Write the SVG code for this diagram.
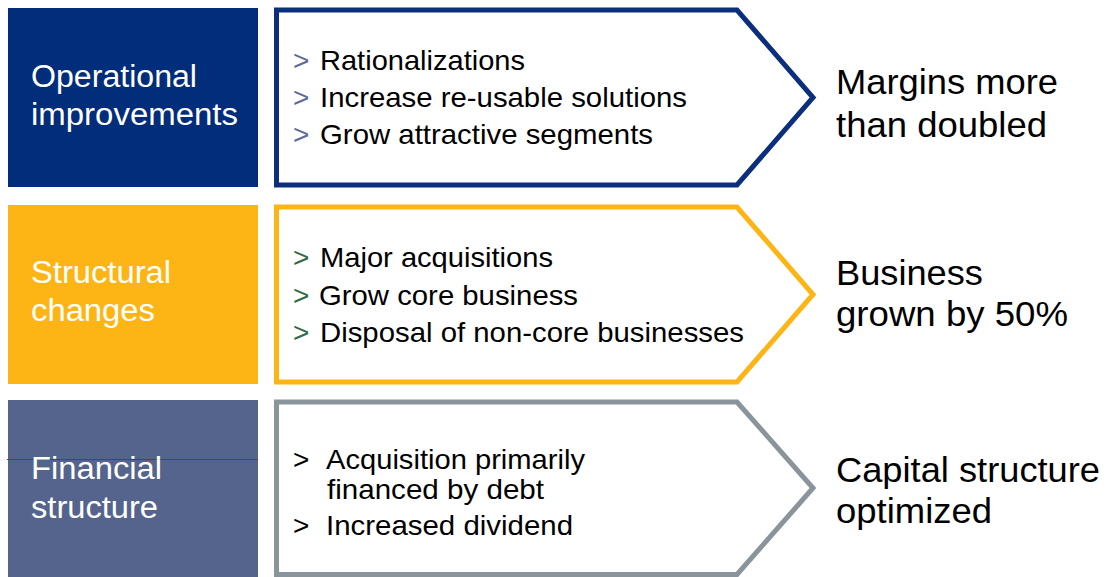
<svg xmlns="http://www.w3.org/2000/svg" width="1107" height="577" viewBox="0 0 1107 577">
<style>
.lbl{font-family:"Liberation Sans",Arial,sans-serif;font-size:31px;fill:#ffffff}
.bt{font-family:"Liberation Sans",Arial,sans-serif;font-size:28px;fill:#000000}
.res{font-family:"Liberation Sans",Arial,sans-serif;font-size:35px;fill:#000000}
.chev{fill:#ffffff;stroke-width:5;stroke-linejoin:miter;stroke-miterlimit:10}
</style>
<rect width="1107" height="577" fill="#ffffff"/>
<g id="row1">
<rect x="8" y="8" width="250" height="179" fill="#022D7A"/>
<text class="lbl" x="31" y="87" textLength="166" lengthAdjust="spacingAndGlyphs">Operational</text>
<text class="lbl" x="31" y="125" textLength="207" lengthAdjust="spacingAndGlyphs">improvements</text>
<polygon class="chev" stroke="#0B2F7C" points="276.5,10 737,10 813,97.5 737,185 276.5,185"/>
<g fill="#5B6A9C" font-family="Liberation Sans, Arial, sans-serif" font-size="28">
<text x="293" y="70">&gt;</text><text x="293" y="107">&gt;</text><text x="293" y="144">&gt;</text>
</g>
<text class="bt" x="320" y="70" textLength="205" lengthAdjust="spacingAndGlyphs">Rationalizations</text>
<text class="bt" x="320" y="107" textLength="367" lengthAdjust="spacingAndGlyphs">Increase re-usable solutions</text>
<text class="bt" x="320" y="144" textLength="333" lengthAdjust="spacingAndGlyphs">Grow attractive segments</text>
<text class="res" x="836" y="94" textLength="222" lengthAdjust="spacingAndGlyphs">Margins more</text>
<text class="res" x="836" y="137" textLength="211" lengthAdjust="spacingAndGlyphs">than doubled</text>
</g>
<g id="row2">
<rect x="8" y="205" width="250" height="179" fill="#FDB515"/>
<text class="lbl" x="31" y="283" textLength="140" lengthAdjust="spacingAndGlyphs">Structural</text>
<text class="lbl" x="31" y="321" textLength="124" lengthAdjust="spacingAndGlyphs">changes</text>
<polygon class="chev" stroke="#FDB515" points="276.5,207 737,207 813,294.5 737,382 276.5,382"/>
<g fill="#2F6B47" font-family="Liberation Sans, Arial, sans-serif" font-size="28">
<text x="293" y="267">&gt;</text><text x="293" y="305">&gt;</text><text x="293" y="342">&gt;</text>
</g>
<text class="bt" x="320" y="267" textLength="233" lengthAdjust="spacingAndGlyphs">Major acquisitions</text>
<text class="bt" x="319" y="305" textLength="259" lengthAdjust="spacingAndGlyphs">Grow core business</text>
<text class="bt" x="320" y="342" textLength="424" lengthAdjust="spacingAndGlyphs">Disposal of non-core businesses</text>
<text class="res" x="836" y="285" textLength="147" lengthAdjust="spacingAndGlyphs">Business</text>
<text class="res" x="836" y="326" textLength="232" lengthAdjust="spacingAndGlyphs">grown by 50%</text>
</g>
<g id="row3">
<rect x="8" y="400" width="250" height="177" fill="#55648D"/>
<line x1="7" y1="459.5" x2="258" y2="459.5" stroke="#8E2545" stroke-width="1"/>
<text class="lbl" x="31" y="479" textLength="131" lengthAdjust="spacingAndGlyphs">Financial</text>
<text class="lbl" x="31" y="518" textLength="127" lengthAdjust="spacingAndGlyphs">structure</text>
<polygon class="chev" stroke="#89949B" points="276.5,402 737,402 813,488 737,574.5 276.5,574.5"/>
<g fill="#000000" font-family="Liberation Sans, Arial, sans-serif" font-size="28">
<text x="293" y="469">&gt;</text><text x="293" y="535">&gt;</text>
</g>
<text class="bt" x="326" y="469" textLength="259" lengthAdjust="spacingAndGlyphs">Acquisition primarily</text>
<text class="bt" x="327" y="499" textLength="217" lengthAdjust="spacingAndGlyphs">financed by debt</text>
<text class="bt" x="326" y="535" textLength="247" lengthAdjust="spacingAndGlyphs">Increased dividend</text>
<text class="res" x="836" y="482" textLength="264" lengthAdjust="spacingAndGlyphs">Capital structure</text>
<text class="res" x="836" y="523" textLength="156" lengthAdjust="spacingAndGlyphs">optimized</text>
</g>
<g id="connectors"/>
</svg>
